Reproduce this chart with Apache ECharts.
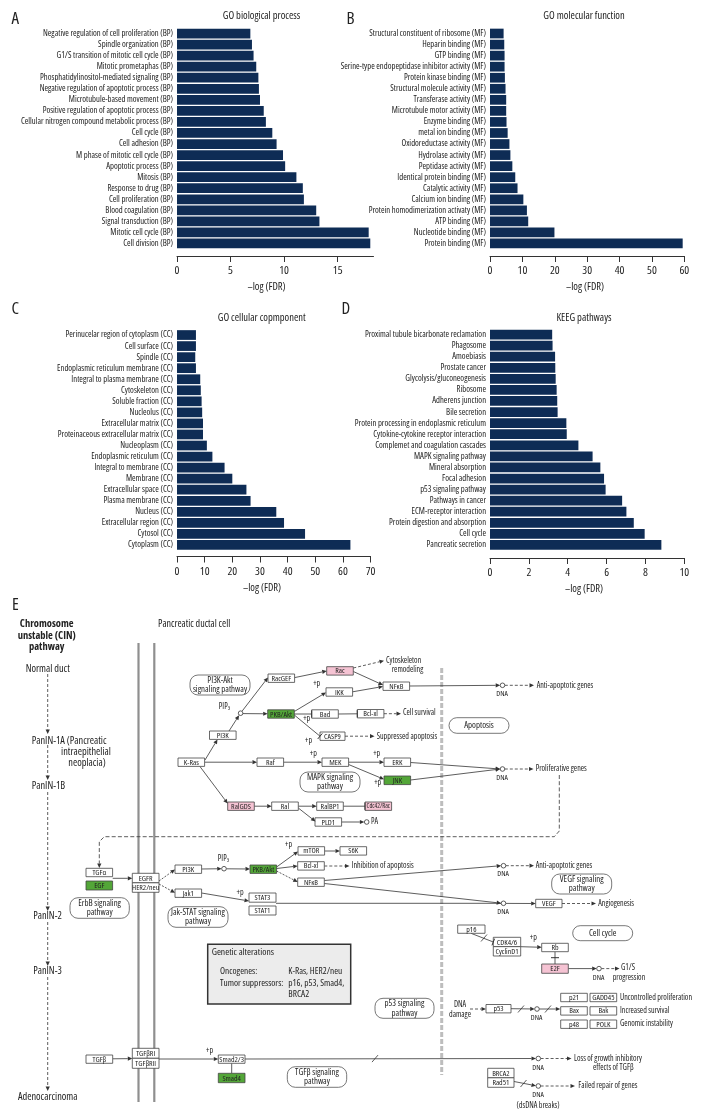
<!DOCTYPE html>
<html><head><meta charset="utf-8">
<script src="https://cdn.jsdelivr.net/npm/echarts@6/dist/echarts.min.js"></script>
<style>html,body{margin:0;padding:0;background:#fff}#c{width:710px;height:1120px}</style>
</head><body><div id="c"></div>
<script>
// ---------- DATA ----------
const bpCats = ["Negative regulation of cell proliferation (BP)","Spindle organization (BP)","G1/S transition of mitotic cell cycle (BP)","Mitotic prometaphas (BP)","Phosphatidylinositol-mediated signaling (BP)","Negative regulation of apoptotic process (BP)","Microtubule-based movement (BP)","Positive regulation of apoptotic process (BP)","Cellular nitrogen compound metabolic process (BP)","Cell cycle (BP)","Cell adhesion (BP)","M phase of mitotic cell cycle (BP)","Apoptotic process (BP)","Mitosis (BP)","Response to drug (BP)","Cell proliferation (BP)","Blood coagulation (BP)","Signal transduction (BP)","Mitotic cell cycle (BP)","Cell division (BP)"];
const bpVals = [6.85,7.0,7.15,7.4,7.6,7.65,7.75,8.1,8.3,8.9,9.3,9.9,10.1,11.15,11.75,11.85,13.0,13.3,17.9,18.05];

const mfCats = ["Structural constituent of ribosome (MF)","Heparin binding (MF)","GTP binding (MF)","Serine-type endopeptidase inhibitor activity (MF)","Protein kinase binding (MF)","Structural molecule activity (MF)","Transferase activity (MF)","Microtubule motor activity (MF)","Enzyme binding (MF)","metal ion binding (MF)","Oxidoreductase activity (MF)","Hydrolase activity (MF)","Peptidase activity (MF)","Identical protein binding (MF)","Catalytic activity (MF)","Calcium ion binding (MF)","Protein homodimerization activaty (MF)","ATP binding (MF)","Nucleotide binding (MF)","Protein binding (MF)"];
const mfVals = [4.2,4.4,4.5,4.5,4.6,4.8,5.0,5.0,5.1,5.45,6.0,6.3,6.9,7.8,8.5,10.3,11.4,11.8,19.9,59.5];

const ccCats = ["Perinucelar region of cytoplasm (CC)","Cell surface (CC)","Spindle (CC)","Endoplasmic reticulum membrane (CC)","Integral to plasma membrane (CC)","Cytoskeleton (CC)","Soluble fraction (CC)","Nucleolus (CC)","Extracellular matrix (CC)","Proteinaceous extracellular matrix (CC)","Nucleoplasm (CC)","Endoplasmic reticulum (CC)","Integral to membrane (CC)","Membrane (CC)","Extracellular space (CC)","Plasma membrane (CC)","Nucleus (CC)","Extracellular region (CC)","Cytosol (CC)","Cytoplasm (CC)"];
const ccVals = [6.85,6.85,6.6,6.85,8.4,8.6,8.9,9.1,9.4,9.4,10.8,12.8,17.2,20.0,25.1,26.6,35.9,38.7,46.3,62.7];

const kgCats = ["Proximal tubule bicarbonate reclamation","Phagosome","Amoebiasis","Prostate cancer","Glycolysis/gluconeogenesis","Ribosome","Adherens junction","Bile secretion","Protein processing in endoplasmic reticulum","Cytokine-cytokine receptor interaction","Complemet and coagulation cascades","MAPK signaling pathway","Mineral absorption","Focal adhesion","p53 signaling pathway","Pathways in cancer","ECM-receptor interaction","Protein digestion and absorption","Cell cycle","Pancreatic secretion"];
const kgVals = [3.2,3.22,3.35,3.36,3.38,3.43,3.46,3.48,3.93,3.95,4.55,5.28,5.68,5.87,5.95,6.8,7.02,7.4,7.96,8.82];

const bpTicks = [0,5,10,15];
const mfTicks = [0,10,20,30,40,50,60];
const ccTicks = [0,10,20,30,40,50,60,70];
const kgTicks = [0,2,4,6,8,10];

const titles = ["GO biological process","GO molecular function","GO cellular copmponent","KEEG pathways"];
const axisTitle = "–log (FDR)";

// ---------- LAYOUT / STYLE ----------
const FAM = '"Open Sans","Liberation Sans",sans-serif';
function F(size,bold){return (bold?'bold ':'')+'condensed '+size+'px '+FAM;}
const BAR = '#0e2c55';
const panels = [
  {cats:bpCats, vals:bpVals, ticks:bpTicks, max:18.35, grid:{left:177,top:28,width:196.5,height:221}, off:7},
  {cats:mfCats, vals:mfVals, ticks:mfTicks, max:60, grid:{left:490,top:28,width:194.3,height:221}, off:7},
  {cats:ccCats, vals:ccVals, ticks:ccTicks, max:70, grid:{left:177,top:329.5,width:193.6,height:221}, off:6},
  {cats:kgCats, vals:kgVals, ticks:kgTicks, max:10, grid:{left:490,top:329,width:194.3,height:221.5}, off:7.5}
];

const G = [];
function txt(s,x,y,size,align,o){o=o||{};
  G.push({type:'text',silent:true,z:20,style:{text:s,x:x,y:y,fill:o.color||'#222',
    font:F(size,o.bold),align:align||'left',verticalAlign:o.va||'middle'}});}
function rect(x,y,w,h,fill,stroke,lw,r){
  G.push({type:'rect',silent:true,z:10,shape:{x:x,y:y,width:w,height:h,r:r||0},
    style:{fill:fill||'#fff',stroke:stroke||'#444',lineWidth:lw||0.8}});}
function box(l,x,y,w,h,fill,fs){w=w||26.6;h=h||8.4;rect(x,y,w,h,fill||'#fff');txt(l,x+w/2,y+h/2+0.3,fs||7.8,'center');}
function box2(a,b,x,y,w,h){w=w||26.6;h=h||19;rect(x,y,w,h/2);rect(x,y+h/2,w,h/2);
  txt(a,x+w/2,y+h/4+0.3,7.8,'center');txt(b,x+w/2,y+3*h/4+0.3,7.8,'center');}
function pbox(a,b,x,y,w,h){rect(x,y,w,h,'#fff','#555',0.8,8);
  if(b){txt(a,x+w/2,y+h/2-4.6,8.8,'center');txt(b,x+w/2,y+h/2+4.8,8.8,'center');}
  else txt(a,x+w/2,y+h/2,8.8,'center');}
function circ(x,y){G.push({type:'circle',silent:true,z:12,shape:{cx:x,cy:y,r:2.3},style:{fill:'#fff',stroke:'#333',lineWidth:0.8}});}
function ln(pts,o){o=o||{};const col=o.color||'#333',lw=o.lw||0.8;
  const n=pts.length,p2=pts[n-1],p1=pts[n-2];
  const dx=p2[0]-p1[0],dy=p2[1]-p1[1],L=Math.hypot(dx,dy),ux=dx/L,uy=dy/L;
  let P=pts.map(p=>p.slice());
  if(o.head==='a'){const hl=4.5,hw=2.1;const bx=p2[0]-ux*hl,by=p2[1]-uy*hl;P[n-1]=[bx,by];
    G.push({type:'polygon',silent:true,z:11,shape:{points:[[p2[0],p2[1]],[bx-uy*hw,by+ux*hw],[bx+uy*hw,by-ux*hw]]},style:{fill:col}});}
  if(o.head==='i'){const hw=3.6;G.push({type:'line',silent:true,z:11,shape:{x1:p2[0]-uy*hw,y1:p2[1]+ux*hw,x2:p2[0]+uy*hw,y2:p2[1]-ux*hw},style:{stroke:col,lineWidth:1}});}
  G.push({type:'polyline',silent:true,z:9,shape:{points:P},style:{stroke:col,lineWidth:lw,fill:null,lineDash:o.dash?(o.dash===true?[3,2]:o.dash):null}});}
function slash(x,y){G.push({type:'line',silent:true,z:11,shape:{x1:x-3,y1:y+3.5,x2:x+3,y2:y-3.5},style:{stroke:'#333',lineWidth:0.8}});}

// panel letters, titles, axis titles
txt('A',11.5,19,17,'left');txt('B',346.5,19,17,'left');txt('C',11.5,309,17,'left');txt('D',341.5,309,17,'left');txt('E',12,605,17,'left');
txt(titles[0],261.5,16,10.5,'center');txt(titles[1],584,16,10.5,'center');
txt(titles[2],261.7,318.5,10.5,'center');txt(titles[3],584,318.5,10.5,'center');
txt(axisTitle,266.5,287.5,10.5,'center');txt(axisTitle,585,287.5,10.5,'center');
txt(axisTitle,262,588,10.5,'center');txt(axisTitle,584,589,10.5,'center');

// ---------- PANEL E (schematic) ----------
G.push({type:'line',silent:true,z:5,shape:{x1:138.5,y1:643,x2:138.5,y2:1102},style:{stroke:'#8f8f8f',lineWidth:2.2}});
G.push({type:'line',silent:true,z:5,shape:{x1:154.3,y1:643,x2:154.3,y2:1102},style:{stroke:'#8f8f8f',lineWidth:2.2}});
G.push({type:'line',silent:true,z:5,shape:{x1:441.7,y1:668,x2:441.7,y2:1075},style:{stroke:'#bdbdbd',lineWidth:3,lineDash:[5,2]}});

txt('Chromosome',46.7,624.3,10.5,'center',{bold:true});
txt('unstable (CIN)',46.7,635.7,10.5,'center',{bold:true});
txt('pathway',46.7,647,10.5,'center',{bold:true});
txt('Pancreatic ductal cell',158,624.3,10,'left');
txt('Normal duct',47.7,668.7,10.3,'center');
ln([[47.7,674],[47.7,734]],{dash:true,head:'a'});
txt('PanIN-1A (Pancreatic',31.7,740.7,10.3,'left');
txt('intraepithelial',61,752,10.3,'left');
txt('neoplacia)',68.3,763.5,10.3,'left');
ln([[47.7,745],[47.7,780]],{dash:true,head:'a'});
txt('PanIN-1B',31.7,786.5,10.3,'left');
ln([[47.7,792],[47.7,911]],{dash:true,head:'a'});
txt('PanIN-2',47.5,916.5,10.3,'center');
ln([[47.7,922],[47.7,966]],{dash:true,head:'a'});
txt('PanIN-3',47.5,971.5,10.3,'center');
ln([[47.7,977],[47.7,1091]],{dash:true,head:'a'});
txt('Adenocarcinoma',47.7,1097.5,10.3,'center');

// upper K-Ras cascade
pbox('PI3K-Akt','signaling pathway',190,675,60,20);
box('RacGEF',268,674);
box('Rac',326.7,666.7,26.6,8.4,'#f5c3d3');
box('IKK',326,687.8);
box('NFκB',383,682);
box('PKB/Akt',267.7,709.8,26.6,8.4,'#53a638');
box('Bad',311.7,709.8);
box('Bcl-xl',357.3,709.5);
box('CASP9',320,732,25,8.4);
box('PI3K',209.5,731);
box('K-Ras',178,758);
box('Raf',257,758);
box('MEK',322,758);
box('ERK',384,758);
box('JNK',384,776,26.6,8.6,'#53a638');
pbox('MAPK signaling','pathway',300,772,60,20);
box('RalGDS',227.7,802,26.6,8.4,'#f5c3d3');
box('Ral',271.7,802);
box('RalBP1',316.7,802);
box('Cdc42/Rac',365,802,26.6,8.4,'#f5c3d3',6.4);
box('PLD1',315,817.8);
pbox('Apoptosis',null,449,717.7,60,15.6);

ln([[205,760],[217.5,739.4]],{head:'a'});
ln([[229,731],[239.1,715.3]],{head:'a'});
circ(240.6,713.2);
ln([[242.2,711],[268,677.5]],{head:'a'});
ln([[243,713.6],[267.7,713.8]],{head:'a'});
txt('PIP₃',224.5,706.5,8,'center');
ln([[294.6,677.6],[326.7,671]],{head:'a'});
ln([[353.3,671.5],[383,685]],{head:'a'});
ln([[353.3,668],[384,660.7]],{dash:true,head:'a'});
txt('Cytoskeleton',386,660.8,8,'left');txt('remodeling',391.7,669.4,8,'left');
ln([[352.6,691.8],[383,686.5]],{head:'a'});
ln([[294.3,711.5],[326,692.5]],{head:'a'});txt('+p',316.7,683.5,8,'center');
ln([[294.3,714],[311.7,714]],{head:'i'});txt('+p',306.7,718.3,8,'center');
ln([[294.3,715],[320,736.2]],{head:'i'});txt('+p',308.5,741,8,'center');
ln([[338.3,714],[357.3,713.8]],{head:'i'});
ln([[383.9,713.7],[401,713.7]],{dash:true,head:'a'});txt('Cell survival',403,712.8,8,'left');
ln([[345,736.2],[374.5,736.2]],{dash:true,head:'a'});txt('Suppressed apoptosis',376.7,736.5,8,'left');
ln([[204.6,762.2],[257,762.2]],{head:'a'});
ln([[283.6,762.2],[322,762.2]],{head:'a'});txt('+p',313.3,754,8,'center');
ln([[348.6,762.2],[384,762.2]],{head:'a'});txt('+p',376.7,754,8,'center');
ln([[348.6,764.5],[384,779.3]],{head:'a'});txt('+p',377.7,783,8,'center');
ln([[410.6,762.5],[500.2,769]],{head:'a'});
ln([[410.6,780],[500.2,769]],{head:'a'});
circ(502.5,769);txt('DNA',502,777.8,7.6,'center');
ln([[504.8,769],[533.5,769]],{dash:true,head:'a'});txt('Proliferative genes',535.7,769,8,'left');
ln([[200,766.6],[227.7,803.5]],{head:'a'});
ln([[254.3,806.2],[271.7,806.2]],{head:'a'});
ln([[298.3,806.2],[316.7,806.2]],{head:'a'});
ln([[298.3,808],[315.5,821.5]],{head:'a'});
ln([[343.3,806.2],[365,806.2]],{head:'i'});
ln([[341.6,822],[364.4,822]],{head:'a'});circ(366.7,822);txt('PA',371,821.8,8,'left');
ln([[409.6,686],[500.2,685.3]],{head:'a'});
circ(502.5,685.3);txt('DNA',502,694,7.6,'center');
ln([[504.8,685.3],[534,685.3]],{dash:true,head:'a'});txt('Anti-apoptotic genes',536.7,685.3,8,'left');
ln([[559.3,775],[559.3,831],[554.3,836.7],[104.3,836.7],[99.3,841.7],[99.3,868]],{dash:[4,2.2],head:'a'});

// middle EGFR section
box('TGFα',86,868.3);
box('EGF',86,881,26.6,9,'#53a638');
pbox('ErbB signaling','pathway',70,897.7,59.3,20.6);
box2('EGFR','HER2/neu',132.3,873.3,26.7,19);
ln([[112.7,878.3],[132.3,878.3]],{head:'a'});
box('PI3K',175,865);
box('Jak1',175,889);
ln([[159,881],[175,869.5]],{dash:[2,1.4],head:'a'});
ln([[159,884],[175,892.8]],{dash:[2,1.4],head:'a'});
ln([[201.6,869],[221.7,868.7]],{head:'a'});circ(224,868.7);txt('PIP₃',223.5,858.3,8,'center');
ln([[226.3,868.8],[250,869]],{head:'a'});
box('PKB/Akt',250,865,26.6,8.4,'#53a638');
box('mTOR',298,846.7);box('S6K',340,846.7);
box('Bcl-xl',297.7,861.7);box('NFκB',297.7,878);
ln([[276.6,867],[298,851.5]],{head:'a'});txt('+p',288.5,845,8,'center');
ln([[276.6,868.5],[297.7,866]],{head:'a'});
ln([[276.6,871],[297.7,882]],{dash:[2,1.4],head:'a'});
ln([[324.6,851],[340,851]],{head:'a'});
ln([[324.3,866],[349.5,866]],{dash:true,head:'a'});txt('Inhibition of apoptosis',351.7,865.6,8,'left');
box('STAT3',249,893,27,9.2);box('STAT1',249,906,27,9);
pbox('Jak-STAT signaling','pathway',168,906.7,60,20.6);
ln([[201.6,893],[249,901]],{head:'a'});txt('+p',240,892.7,8,'center');
ln([[324.3,880.5],[501.2,865.7]],{head:'a'});
circ(503.5,865.7);txt('DNA',503,874.3,7.6,'center');
ln([[505.8,865.7],[534,865.7]],{dash:true,head:'a'});txt('Anti-apoptotic genes',535.7,865.7,8,'left');
ln([[324.3,883.5],[501.2,903.2]],{head:'a'});
ln([[276,903.3],[501.2,903.3]]);
circ(503.5,903.3);txt('DNA',503,912,7.6,'center');
ln([[505.8,903.4],[535.7,903.5]],{head:'a'});
box('VEGF',535.7,899.3,26.3,8.4);
ln([[562,903.5],[596,903.5]],{dash:true,head:'a'});txt('Angiogenesis',598.3,903.5,8,'left');
pbox('VEGF signaling','pathway',551.7,874,60,20);

// genetic alterations box
rect(207.7,944.3,143,59.7,'#ececec','#333',1.5);
txt('Genetic alterations',211.7,952.5,9.6,'left');
txt('Oncogenes:',220,971.7,9.3,'left');txt('K-Ras, HER2/neu',288.3,971.7,9.3,'left');
txt('Tumor suppressors:',220,983.3,9.3,'left');txt('p16, p53, Smad4,',288.3,983.3,9.3,'left');
txt('BRCA2',288.3,994.3,9.3,'left');

// cell cycle section
box('p16',457.7,925,27.3,8.3);
box2('CDK4/6','CyclinD1',493.3,937.3,27.4,18.7);
ln([[471,933.3],[493.3,942]],{head:'i'});slash(484,938);
ln([[520.7,946.7],[541.7,947.3]],{head:'a'});txt('+p',533.3,937.5,8,'center');
box('Rb',541.7,943.3);
ln([[555,951.7],[555,964]]);
G.push({type:'line',silent:true,z:11,shape:{x1:551,y1:957.7,x2:559,y2:957.7},style:{stroke:'#333',lineWidth:1}});
box('E2F',541.7,964,26.6,9.3,'#f5c3d3');
ln([[568.3,968.6],[596.7,968.6]],{head:'a'});circ(599,968.6);txt('DNA',598.5,977.5,7.6,'center');
ln([[601.3,968.6],[619.5,968.6]],{dash:true,head:'a'});
txt('G1/S',621,968,8,'left');txt('progression',612.7,977.3,8,'left');
pbox('Cell cycle',null,572.7,925.7,60,15);

// p53 section
pbox('p53 signaling','pathway',375,998.3,59,20);
txt('DNA',460,1004.3,8,'center');txt('damage',460,1014.3,8,'center');
ln([[470,1009],[486,1009]],{dash:true,head:'a'});
box('p53',486,1004.5,25,8.4);
ln([[511,1008.7],[534.7,1009]],{head:'a'});slash(521,1009);
circ(537,1009);txt('DNA',536.5,1018,7.6,'center');
ln([[539.3,1009],[560.3,1009]],{head:'a'});slash(548,1009);
box('p21',560.7,993.3);box('GADD45',590,993.3,26.7);
box('Bax',560.7,1006.7);box('Bak',590,1006.7,26.7);
box('p48',560.7,1020);box('POLK',590,1020,26.7);
txt('Uncontrolled proliferation',620,997.5,8,'left');
txt('Increased survival',620,1010.9,8,'left');
txt('Genomic instability',620,1024.2,8,'left');

// TGFβ section
box('TGFβ',86,1055,26.7,8.3);
box2('TGFβRI','TGFβRII',132.3,1048.3,26.7,20);
ln([[112.7,1058.8],[132.3,1058.6]],{head:'a'});
ln([[159,1059],[218.3,1059]],{head:'a'});txt('+p',209.5,1050.3,8,'center');
box('Smad2/3',218.3,1055,26.7,8.3);
ln([[231.7,1063.3],[231.7,1073.3]]);
box('Smad4',218.3,1073.3,26.7,9.4,'#53a638');
pbox('TGFβ signaling','pathway',287.3,1066.7,59.4,20.6);
ln([[245,1059],[536,1058.5]],{head:'a'});slash(375,1058.6);
circ(538.3,1058.5);txt('DNA',538,1067.5,7.6,'center');
ln([[540.6,1058.5],[571.5,1058.5]],{dash:true,head:'a'});
txt('Loss of growth inhibitory',574,1058.3,8,'left');txt('effects of TGFβ',613.3,1067.8,8,'center');
box2('BRCA2','Rad51',487.7,1068.3,26.3,19);
ln([[514,1081.5],[536,1085.8]],{head:'a'});slash(523.5,1083.5);
circ(538.3,1086);txt('DNA',538,1095.2,7.6,'center');txt('(dsDNA breaks)',538,1105.3,8,'center');
ln([[540.6,1086],[575,1086]],{dash:true,head:'a'});txt('Failed repair of genes',578.3,1086,8,'left');

// ---------- OPTION ----------
const option = {animation:false, grid:[], xAxis:[], yAxis:[], series:[], graphic:{elements:G}};
panels.forEach((p,i)=>{
  option.grid.push(Object.assign({containLabel:false,outerBoundsMode:'none'},p.grid));
  option.xAxis.push({gridIndex:i,type:'value',min:0,max:p.max,offset:p.off,splitLine:{show:false},
    axisLine:{show:true,lineStyle:{color:'#333',width:1}},
    axisTick:{show:true,length:6,lineStyle:{color:'#333'},customValues:p.ticks},
    axisLabel:{customValues:p.ticks,fontSize:11.5,color:'#222',margin:9,fontFamily:FAM,fontWeight:'condensed'}});
  option.yAxis.push({gridIndex:i,type:'category',data:p.cats,inverse:true,
    axisLine:{show:false},axisTick:{show:false},
    axisLabel:{interval:0,fontSize:8.6,color:'#1a1a1a',margin:4,fontFamily:FAM,fontWeight:'condensed'}});
  option.series.push({type:'bar',xAxisIndex:i,yAxisIndex:i,data:p.vals,barCategoryGap:'12%',
    silent:true,itemStyle:{color:BAR}});
});
const chart = echarts.init(document.getElementById('c'),null,{renderer:'canvas',width:710,height:1120});
chart.setOption(option);
</script></body></html>
